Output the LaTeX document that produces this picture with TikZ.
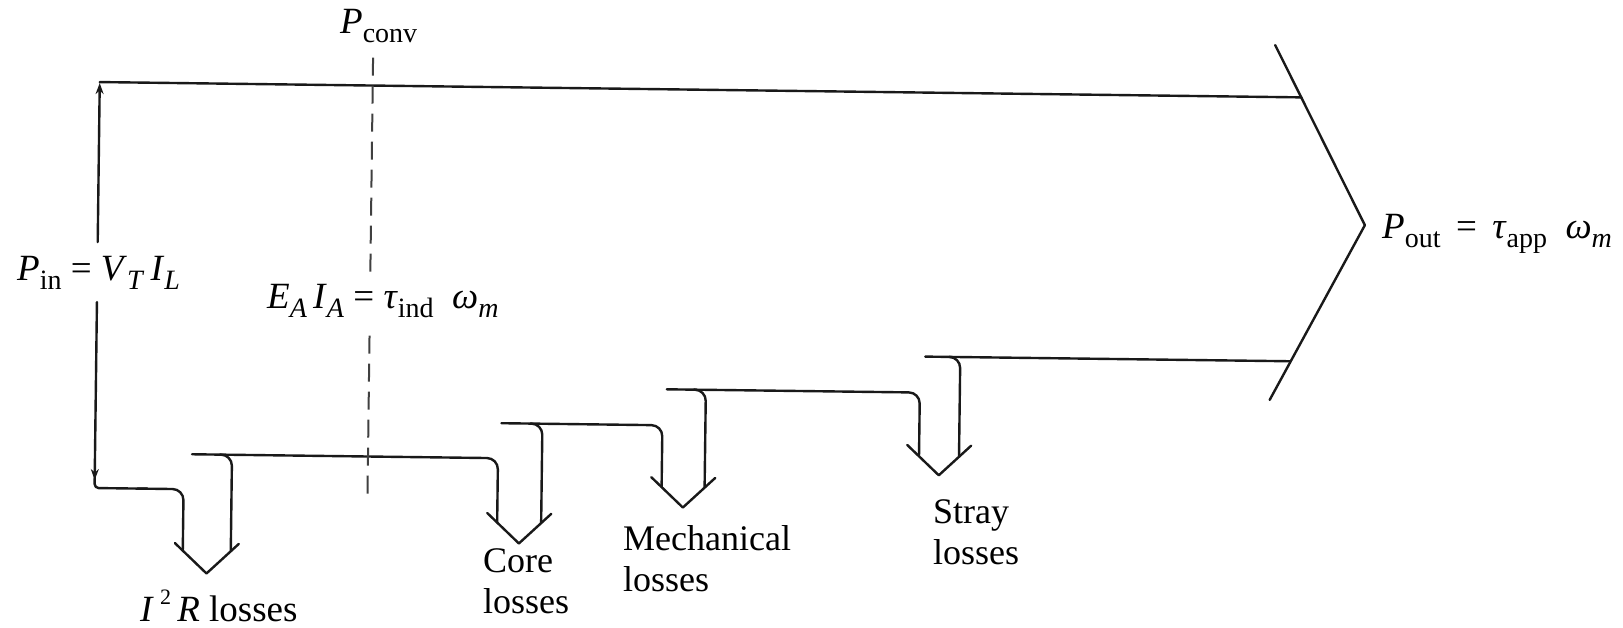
\documentclass[tikz,border=0pt]{standalone}
\usepackage{fontspec}
\setmainfont{Liberation Serif}
\usetikzlibrary{arrows.meta}
\newcommand{\lsub}[1]{\raisebox{-0.27em}{\fontsize{28}{28}\selectfont #1}}
\newcommand{\lsup}[1]{\raisebox{0.45em}{\fontsize{22}{22}\selectfont #1}}
\begin{document}
\begin{tikzpicture}[x=1pt,y=-1pt,
  flowline/.style={line width=2.4pt, draw=black!90, line cap=round, line join=round},
  lossbend/.style={flowline, rounded corners=11pt},
  convline/.style={line width=2pt, draw=black!75, dash pattern=on 18pt off 10pt},
  pintip/.style={flowline, -{Stealth[length=11pt,width=8pt]}},
  lbltext/.style={inner sep=0pt, font=\fontsize{36}{41}\selectfont, align=left, anchor=north west},
  eqtext/.style={inner sep=0pt, font=\fontsize{37}{42}\selectfont, anchor=base west}]
\useasboundingbox (0,0) rectangle (1623,627);
\begin{scope}[rotate around={-0.73:(800,300)}]
  % input power line and output arrow head
  \coordinate (tl) at (97,91);
  \coordinate (tr) at (1299,91);
  \coordinate (wingtop) at (1272,39);
  \coordinate (apex) at (1364,218);
  \coordinate (wingbot) at (1271,394);
  \draw[flowline] (tl) -- (tr);
  \draw[flowline] (wingtop) -- (apex) -- (wingbot);
  % P_in double arrow
  \draw[pintip] (97,251) -- (97,92);
  \draw[pintip] (97,311) -- (97,489);
  \draw[flowline, rounded corners=4pt] (97,480) -- (97,497) -- (150,497);
  % I^2R losses
  \draw[lossbend] (140,497) -- (186,497) -- (186,558.5);
  \draw[lossbend] (222,462) -- (234,462) -- (234,558.5);
  \draw[flowline] (178,551) -- (210,581) -- (242,551);
  % core losses
  \draw[lossbend] (194,462) -- (500,462) -- (500,526.4);
  \draw[lossbend] (532,427) -- (544,427) -- (544,526.4);
  \draw[flowline] (490,517) -- (522,547) -- (554,517);
  % mechanical losses
  \draw[lossbend] (503,427) -- (664,427) -- (664,488.8);
  \draw[lossbend] (695,391) -- (707,391) -- (707,488.8);
  \draw[flowline] (653.5,479) -- (685.5,509) -- (717.5,479);
  % stray losses
  \draw[lossbend] (668,391) -- (921,391) -- (921,454.75);
  \draw[lossbend] (950,355) -- (961,355) -- (961,454.75);
  \draw[flowline] (909,443.5) -- (941,473.5) -- (973,443.5);
  % output level
  \draw[flowline] (926,355) -- (1291,355);
  % P_conv dashed line
  \draw[convline] (370,63) -- (370,279);
  \draw[convline] (370,341) -- (370,503);
\end{scope}
\node[eqtext] (pconv) at (340,33) {\textit{P}\lsub{conv}};
\node[eqtext] (pin) at (17,280) {\textit{P}\lsub{in} = \textit{V}\lsub{\textit{T}}\,\textit{I}\lsub{\textit{L}}};
\node[eqtext] (ea) at (267,308) {\textit{E}\lsub{\textit{A}}\,\textit{I}\lsub{\textit{A}} = \textit{τ}\lsub{ind}\enspace\textit{ω}\lsub{\textit{m}}};
\node[eqtext] (pout) at (1382,238) {\textit{P}\lsub{out}\, = \,\textit{τ}\lsub{app}\enspace\textit{ω}\lsub{\textit{m}}};
\node[eqtext] (i2r) at (140,621) {\textit{I}\,\lsup{2}\,\textit{R} losses};
\node[lbltext] (core) at (483,548) {Core\\losses};
\node[lbltext] (mech) at (623,525) {Mechanical\\losses};
\node[lbltext] (stray) at (933,499) {Stray\\losses};
\end{tikzpicture}
\end{document}
